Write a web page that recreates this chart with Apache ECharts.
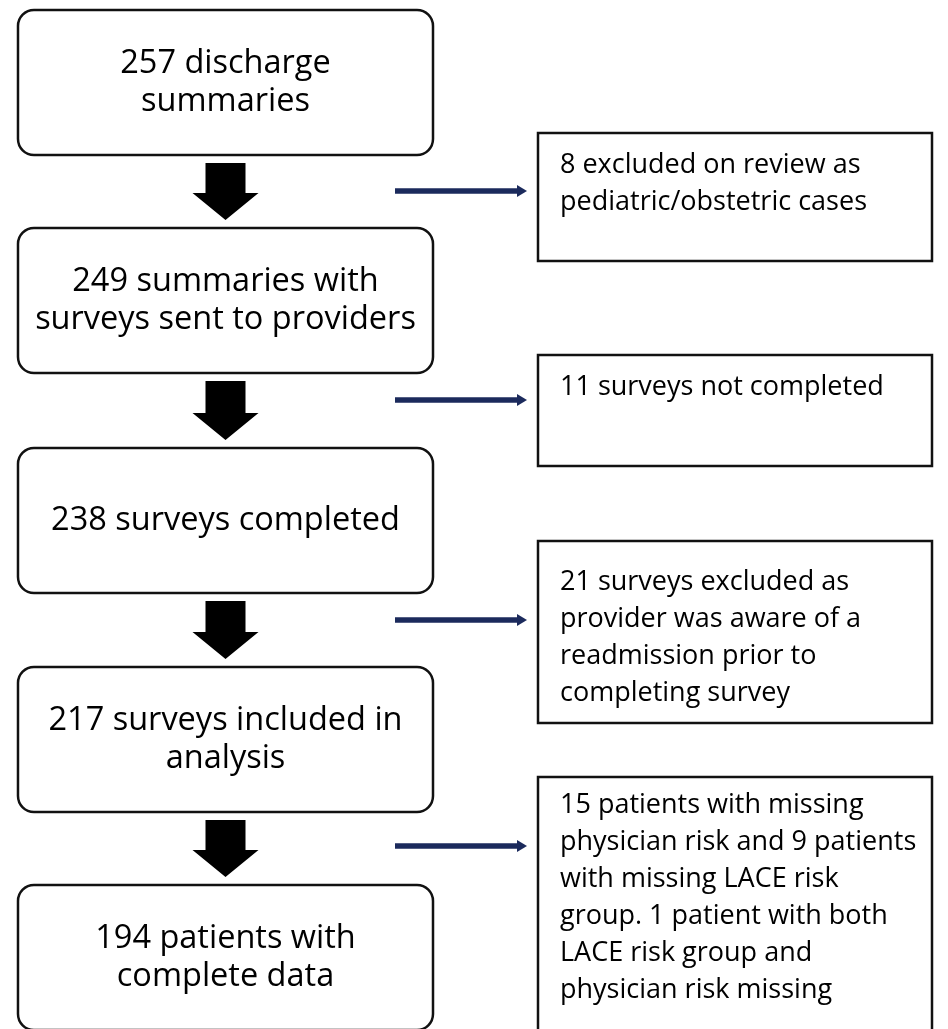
<!DOCTYPE html>
<html>
<head>
<meta charset="utf-8">
<script src="https://cdn.jsdelivr.net/npm/echarts@6/dist/echarts.min.js"></script>
<style>
  html, body { margin: 0; padding: 0; background: #fff; }
  #flow { width: 948px; height: 1029px; }
</style>
</head>
<body>
<div id="flow"></div>
<script>
// flow steps (left column) and exclusions (right column)
const steps = [
    '257 discharge\nsummaries',
    '249 summaries with\nsurveys sent to providers',
    '238 surveys completed',
    '217 surveys included in\nanalysis',
    '194 patients with\ncomplete data'
];
const exclusions = [
    '8 excluded on review as\npediatric/obstetric cases',
    '11 surveys not completed',
    '21 surveys excluded as\nprovider was aware of a\nreadmission prior to\ncompleting survey',
    '15 patients with missing\nphysician risk and 9 patients\nwith missing LACE risk\ngroup. 1 patient with both\nLACE risk group and\nphysician risk missing'
];

// layout, in page pixels (axis units == pixels)
const W = 948, H = 1029;
const stepLeft = 18, stepRight = 433, stepH = 145;
const stepTop = [10, 228, 448, 667, 885];
const exclLeft = 538, exclRight = 932;
const exclTop = [133, 355, 541, 777];
const exclBottom = [261, 466, 723, 1040];
const exclTextY = [165, 387, 582, 805];
const sideArrowY = [191, 400, 620, 846];
const font = '"Open Sans", "Noto Sans", sans-serif';

const chart = echarts.init(document.getElementById('flow'));

function renderStep(params, api) {
    const i = params.dataIndex;
    const p0 = api.coord([stepLeft, stepTop[i]]);
    const p1 = api.coord([stepRight, stepTop[i] + stepH]);
    const cx = (p0[0] + p1[0]) / 2;
    const children = [
        {
            type: 'rect',
            shape: { x: p0[0], y: p0[1], width: p1[0] - p0[0], height: p1[1] - p0[1], r: 16 },
            style: { fill: '#fff', stroke: '#111', lineWidth: 2.5 }
        },
        {
            type: 'text',
            style: {
                text: steps[i], x: cx, y: (p0[1] + p1[1]) / 2,
                align: 'center', verticalAlign: 'middle',
                font: '32.5px ' + font, lineHeight: 38, fill: '#000'
            }
        }
    ];
    if (i < steps.length - 1) {
        const top = p1[1] + 8;
        const tip = api.coord([0, stepTop[i + 1]])[1] - 8;
        const neck = tip - 27;
        children.push({
            type: 'polygon',
            shape: { points: [
                [cx - 20, top], [cx + 20, top], [cx + 20, neck], [cx + 33, neck],
                [cx, tip], [cx - 33, neck], [cx - 20, neck]
            ] },
            style: { fill: '#000' }
        });
    }
    return { type: 'group', children: children };
}

function renderExcl(params, api) {
    const i = params.dataIndex;
    const p0 = api.coord([exclLeft, exclTop[i]]);
    const p1 = api.coord([exclRight, exclBottom[i]]);
    const ty = api.coord([0, exclTextY[i]])[1];
    const a0 = api.coord([395, sideArrowY[i]]);
    const a1 = api.coord([527, sideArrowY[i]]);
    return {
        type: 'group',
        children: [
            {
                type: 'rect',
                shape: { x: p0[0], y: p0[1], width: p1[0] - p0[0], height: p1[1] - p0[1] },
                style: { fill: '#fff', stroke: '#111', lineWidth: 2.5 }
            },
            {
                type: 'text',
                style: {
                    text: exclusions[i], x: p0[0] + 22, y: ty - 18.5,
                    align: 'left', verticalAlign: 'top',
                    font: '27px ' + font, lineHeight: 37, fill: '#000'
                }
            },
            {
                type: 'line',
                shape: { x1: a0[0], y1: a0[1], x2: a1[0] - 8, y2: a1[1] },
                style: { stroke: '#1b2a5c', lineWidth: 5.5 }
            },
            {
                type: 'polygon',
                shape: { points: [[a1[0] - 10, a1[1] - 6], [a1[0], a1[1]], [a1[0] - 10, a1[1] + 6]] },
                style: { fill: '#1b2a5c' }
            }
        ]
    };
}

chart.setOption({
    animation: false,
    backgroundColor: '#fff',
    grid: { left: 0, right: 0, top: 0, bottom: 0 },
    xAxis: { type: 'value', min: 0, max: W, show: false },
    yAxis: { type: 'value', min: 0, max: H, inverse: true, show: false },
    series: [
        {
            type: 'custom', name: 'steps', silent: true, clip: false,
            data: steps.map((s, i) => [i, i]),
            renderItem: renderStep
        },
        {
            type: 'custom', name: 'exclusions', silent: true, clip: false,
            data: exclusions.map((s, i) => [i, i]),
            renderItem: renderExcl
        }
    ]
});
</script>
</body>
</html>
